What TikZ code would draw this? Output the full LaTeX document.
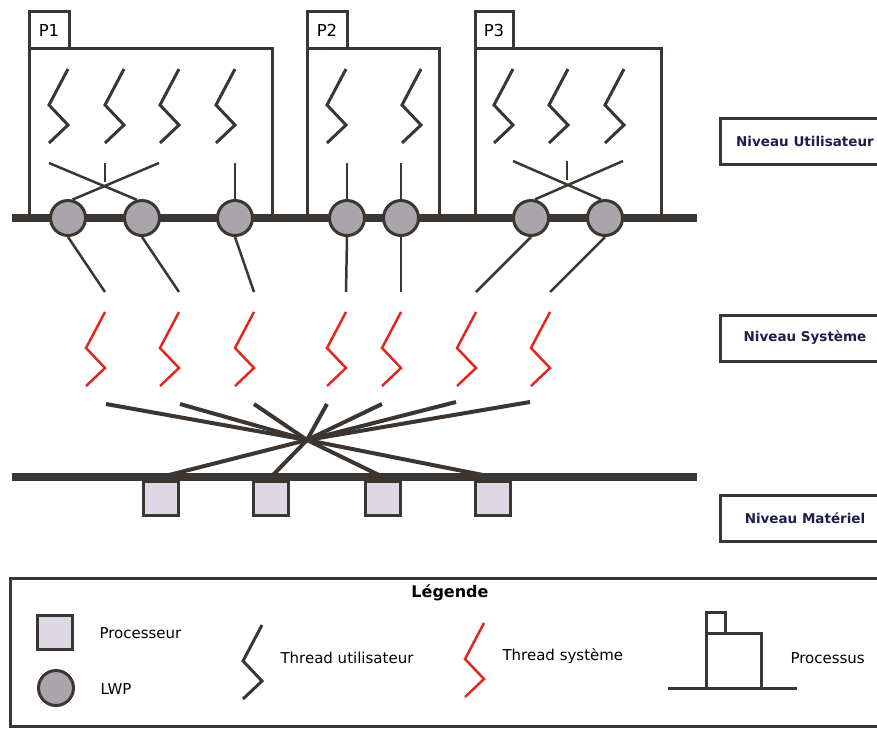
\documentclass[tikz,border=0pt]{standalone}
\usepackage{fontspec}
\setmainfont{DejaVu Sans}
\usepackage{tikz}

\definecolor{trait}{HTML}{3B3632}
\definecolor{rouge}{HTML}{E3261F}
\definecolor{lwpgris}{HTML}{A9A5AA}
\definecolor{cpufond}{HTML}{DCD9E5}
\definecolor{marine}{HTML}{1C1F4E}

% zigzag d'un thread : couleur/style, x du haut, y du haut
\newcommand{\zz}[3]{\draw[#1] (#2,#3) -- ++(-19,36) -- ++(19,20) -- ++(-19,18);}

\begin{document}
\begin{tikzpicture}[x=1pt,y=-1pt,font=\fontsize{15}{18}\selectfont]
	\tikzstyle{boite}=[draw=trait,line width=3pt]
	\tikzstyle{bus}=[draw=trait,line width=7.5pt]
	\tikzstyle{usr}=[draw=trait,line width=3pt]
	\tikzstyle{sys}=[draw=rouge,line width=2.5pt]
	\tikzstyle{lien}=[draw=trait,line width=2.5pt]
	\tikzstyle{fan}=[draw=trait,line width=4pt]
	\tikzstyle{lwp}=[draw=trait,fill=lwpgris,circle,line width=3pt,minimum size=35pt,inner sep=0pt]
	\tikzstyle{cpu}=[draw=trait,fill=cpufond,line width=3pt,minimum width=35pt,minimum height=34pt,inner sep=0pt]
	\tikzstyle{niveau}=[draw=trait,line width=3pt,minimum width=170pt,minimum height=46pt,text=marine,font=\fontsize{13.5}{16}\selectfont\bfseries]
	\tikzstyle{etiq}=[font=\fontsize{16.5}{19}\selectfont]

	\path[use as bounding box] (0,0) rectangle (877,729);
	\clip (0,0) rectangle (877,729);

	% processus
	\draw[boite] (29,218) |- (272,48) -- (272,218);
	\draw[boite] (29,48) |- (69,11) -- (69,48);
	\node[etiq] (P1) at (49,30) {P1};
	\draw[boite] (307,218) |- (439,48) -- (439,218);
	\draw[boite] (307,48) |- (347,11) -- (347,48);
	\node[etiq] (P2) at (327,30) {P2};
	\draw[boite] (475,218) |- (661,48) -- (661,218);
	\draw[boite] (475,48) |- (513,11) -- (513,48);
	\node[etiq] (P3) at (494,30) {P3};

	% threads utilisateur
	\foreach \x in {68,124,179,235,346,421,513,568,624}{
		\zz{usr}{\x}{69}
	}

	\draw[bus] (12,218) -- (697,218);

	\node[lwp] (l1) at (68,218) {};
	\node[lwp] (l2) at (142,218) {};
	\node[lwp] (l3) at (235,218) {};
	\node[lwp] (l4) at (347,218) {};
	\node[lwp] (l5) at (401,218) {};
	\node[lwp] (l6) at (531,218) {};
	\node[lwp] (l7) at (605,218) {};

	\coordinate (a1) at (49,163);
	\coordinate (a2) at (159,163);
	\coordinate (a3) at (105,163);
	\coordinate (x1) at (105,182);
	\coordinate (a4) at (235,163);
	\coordinate (a5) at (347,163);
	\coordinate (a6) at (401,163);
	\coordinate (a7) at (513,161);
	\coordinate (a8) at (623,161);
	\coordinate (a9) at (567,161);
	\coordinate (x2) at (567,180);

	\draw[lien] (a1) -- (l2.106);
	\draw[lien] (a2) -- (l1.76);
	\draw[lien] (a3) -- (x1);
	\draw[lien] (a4) -- (l3);
	\draw[lien] (a5) -- (l4);
	\draw[lien] (a6) -- (l5);
	\draw[lien] (a7) -- (l7.102);
	\draw[lien] (a8) -- (l6.78);
	\draw[lien] (a9) -- (x2);

	% vers les threads systeme
	\coordinate (d1) at (105,292);
	\coordinate (d2) at (179,292);
	\coordinate (d3) at (254,292);
	\coordinate (d4) at (346,292);
	\coordinate (d5) at (401,292);
	\coordinate (d6) at (476,292);
	\coordinate (d7) at (550,292);
	\draw[lien] (l1.south) -- (d1);
	\draw[lien] (l2.south) -- (d2);
	\draw[lien] (l3.south) -- (d3);
	\draw[lien] (l4.south) -- (d4);
	\draw[lien] (l5.south) -- (d5);
	\draw[lien] (l6.south) -- (d6);
	\draw[lien] (l7.south) -- (d7);

	\foreach \x in {105,179,254,346,401,476,550}{
		\zz{sys}{\x}{312}
	}

	% processeurs
	\node[cpu] (cpu1) at (161,498) {};
	\node[cpu] (cpu2) at (271,498) {};
	\node[cpu] (cpu3) at (383,498) {};
	\node[cpu] (cpu4) at (493,498) {};

	\coordinate (hub) at (307,440);
	\coordinate (f1) at (106,404);
	\coordinate (f2) at (180,404);
	\coordinate (f3) at (254,404);
	\coordinate (f4) at (327,404);
	\coordinate (f5) at (382,404);
	\coordinate (f6) at (456,402);
	\coordinate (f7) at (530,402);
	\foreach \f in {f1,f2,f3,f4,f5,f6,f7}
		\draw[fan] (\f) -- (hub);
	\foreach \c in {cpu1,cpu2,cpu3,cpu4}{
		\coordinate (b-\c) at (\c |- 0,477);
		\draw[fan] (hub) -- (b-\c);
	}
	\draw[bus] (12,477) -- (697,477);

	% niveaux
	\node[niveau] (nu) at (805,141) {Niveau Utilisateur};
	\node[niveau] (ns) at (805,338) {Niveau Système};
	\node[niveau] (nm) at (805,518) {Niveau Matériel};

	% legende
	\draw[boite] (10,578) rectangle (890,726);
	\node[font=\fontsize{16}{19}\selectfont\bfseries] (leg) at (450,593) {Légende};
	\node[cpu] (lc) at (55,632) {};
	\node[lwp] (ll) at (56,688) {};
	\node[anchor=west] (tp) at (96,633) {Processeur};
	\node[anchor=west] (tl) at (97,689) {LWP};
	\zz{usr}{262}{625}
	\node[anchor=west] (tu) at (277,658) {Thread utilisateur};
	\zz{sys}{484}{623}
	\node[anchor=west] (ts) at (499,656) {Thread système};
	\draw[boite] (668,688) -- (797,688);
	\draw[boite] (706,688) |- (761,633) -- (761,688);
	\draw[boite] (706,633) |- (725,612) -- (725,633);
	\node[anchor=west] (tpr) at (787,658) {Processus};
\end{tikzpicture}
\end{document}
